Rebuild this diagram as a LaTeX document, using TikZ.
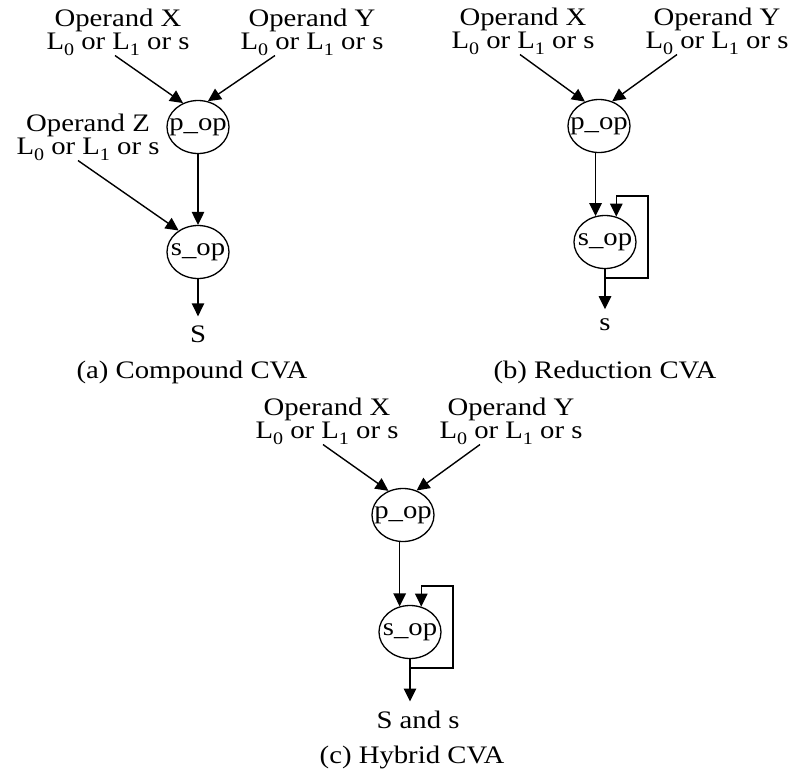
\documentclass[tikz,border=0pt]{standalone}
\usepackage{fontspec}
\setmainfont{Liberation Serif}[FakeStretch=1.14]
\usetikzlibrary{arrows.meta, positioning, calc, shapes.geometric}
\newcommand{\lsub}[1]{\raisebox{-6pt}{\fontsize{17.6}{17.6}\selectfont #1}}
\newcommand{\lvl}{L\lsub{0} or L\lsub{1} or s}

\begin{document}
\begin{tikzpicture}[
  x=1pt, y=-1pt,
  every node/.style={font=\fontsize{25.2}{23}\selectfont},
  op/.style={
    draw, ellipse, line width=1.3pt,
    minimum width=62pt, minimum height=53pt, inner sep=0pt
  },
  operand/.style={align=center, inner sep=0pt},
  result/.style={inner sep=0pt, outer sep=9pt, anchor=base},
  caption/.style={inner sep=0pt, anchor=base},
  arrow/.style={-{Triangle[length=13pt, width=12.5pt]}, line width=1.4pt}
]
  \useasboundingbox (0,0) rectangle (796,777);

  % (a) Compound CVA
  \node[operand] (opxa) at (118,32) {Operand X\\\lvl};
  \node[operand] (opya) at (312,32) {Operand Y\\\lvl};
  \node[op] (pa) at (198,127) {\makebox[0pt]{p\_op}};
  \node[operand] (opza) at (88,137) {Operand Z\\\lvl};
  \node[op] (sa) at (198,252) {\makebox[0pt]{s\_op}};
  \node[result] (outa) at (198,342) {S};
  \node[caption] (capa) at (192,378) {(a) Compound CVA};

  \draw[arrow] ([xshift=-3pt]opxa.south) -- (pa.122);
  \draw[arrow] ([xshift=-37pt]opya.south) -- (pa.69);
  \draw[arrow] ([xshift=-10pt]opza.south) -- (sa.132);
  \draw[arrow] (pa) -- (sa);
  \draw[arrow] (sa) -- (outa);

  % (b) Reduction CVA
  \node[operand] (opxb) at (523,31) {Operand X\\\lvl};
  \node[operand] (opyb) at (717,31) {Operand Y\\\lvl};
  \node[op] (pb) at (599,126) {\makebox[0pt]{p\_op}};
  \node[op] (sb) at (605,242) {\makebox[0pt]{s\_op}};
  \node[result] (outb) at (605,330) {s};
  \node[caption] (capb) at (605,378) {(b) Reduction CVA};

  \draw[arrow] ([xshift=-3pt]opxb.south) -- (pb.120);
  \draw[arrow] ([xshift=-40pt]opyb.south) -- (pb.62);
  \draw[arrow] (sb.110 |- pb.south) -- (sb.110);
  \draw[arrow] (sb.south) -- ++(0,9) -- ++(43,0) -- ++(0,-82) -| (sb.66);
  \draw[arrow] (sb) -- (outb);

  % (c) Hybrid CVA
  \node[operand] (opxc) at (327,421) {Operand X\\\lvl};
  \node[operand] (opyc) at (511,421) {Operand Y\\\lvl};
  \node[op] (pc) at (403,515) {\makebox[0pt]{p\_op}};
  \node[op] (sc) at (410,632) {\makebox[0pt]{s\_op}};
  \node[result] (outc) at (418,728) {S and s};
  \node[caption] (capc) at (412,763) {(c) Hybrid CVA};

  \draw[arrow] ([xshift=-4pt]opxc.south) -- (pc.121);
  \draw[arrow] ([xshift=-31pt]opyc.south) -- (pc.61);
  \draw[arrow] (sc.112 |- pc.south) -- (sc.112);
  \draw[arrow] (sc.south) -- ++(0,9) -- ++(43,0) -- ++(0,-82) -| (sc.66);
  \draw[arrow] (sc.south) -- (sc.south |- outc.north);

\end{tikzpicture}
\end{document}
